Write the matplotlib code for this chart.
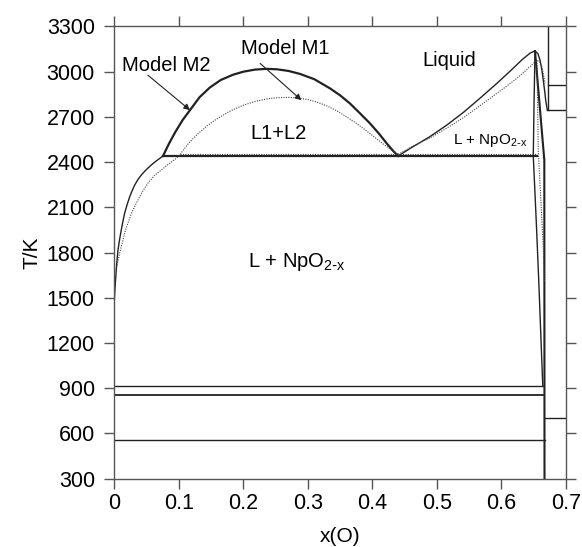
import matplotlib.pyplot as plt

plt.rcParams['font.family'] = ['Liberation Sans', 'DejaVu Sans']

# Model M2 (solid lines)
m2_left_x = [0.0, 0.0008, 0.0016, 0.0035, 0.0057, 0.0083, 0.0108, 0.0135, 0.016, 0.02, 0.0239,
             0.0278, 0.0316, 0.0365, 0.0419, 0.0495, 0.0573, 0.065, 0.0728, 0.0755]
m2_left_T = [1480, 1540, 1596, 1715, 1817, 1890, 1950, 2010, 2061, 2120, 2171,
             2212, 2248, 2284, 2315, 2350, 2381, 2408, 2432, 2441]
m2_dome_x = [0.0755, 0.085, 0.095, 0.106, 0.1173, 0.132, 0.148, 0.165, 0.184, 0.2, 0.218, 0.236,
             0.252, 0.27, 0.288, 0.31, 0.334, 0.35, 0.365, 0.38, 0.396, 0.41, 0.422, 0.432, 0.44]
m2_dome_T = [2441, 2525, 2603, 2680, 2745, 2830, 2895, 2945, 2980, 3000, 3014, 3019,
             3016, 3005, 2985, 2950, 2890, 2843, 2790, 2727, 2658, 2590, 2525, 2475, 2441]
m2_liq_x = [0.44, 0.46, 0.489, 0.515, 0.541, 0.567, 0.593, 0.615, 0.632, 0.644, 0.649, 0.652,
            0.6565, 0.6597, 0.6625, 0.6648, 0.667, 0.6685, 0.671]
m2_liq_T = [2441, 2495, 2569, 2645, 2730, 2825, 2923, 3010, 3080, 3122, 3133, 3137,
            3120, 3077, 3015, 2945, 2870, 2812, 2746]
m2_sol_x = [0.652, 0.6505, 0.6493, 0.654, 0.658, 0.661, 0.664]
m2_sol_T = [3137, 2800, 2441, 2000, 1590, 1250, 917]
m2_upper_x = [0.652, 0.6664, 0.6667]
m2_upper_T = [3137, 2413, 300]
m2_mono_x = [0.0755, 0.655]
m2_mono_T = [2441, 2441]

# Model M1 (dotted lines)
m1_left_x = [0.0035, 0.0085, 0.0135, 0.017, 0.021, 0.027, 0.034, 0.043, 0.052, 0.062, 0.0728,
             0.085, 0.096, 0.102]
m1_left_T = [1700, 1800, 1884, 1945, 1994, 2065, 2127, 2200, 2260, 2310, 2348, 2390, 2425, 2452]
m1_dome_x = [0.102, 0.115, 0.13, 0.145, 0.16, 0.18, 0.2, 0.22, 0.24, 0.255, 0.27, 0.285, 0.3,
             0.315, 0.33, 0.345, 0.36, 0.375, 0.39, 0.405, 0.42, 0.43, 0.44]
m1_dome_T = [2452, 2525, 2590, 2645, 2690, 2740, 2778, 2805, 2822, 2828, 2830, 2825, 2815,
             2797, 2772, 2740, 2700, 2658, 2610, 2560, 2510, 2478, 2452]
m1_liq_x = [0.44, 0.46, 0.489, 0.515, 0.541, 0.567, 0.593, 0.61, 0.625, 0.635, 0.644, 0.65,
            0.655, 0.659, 0.662, 0.665, 0.6675]
m1_liq_T = [2452, 2500, 2560, 2625, 2695, 2775, 2857, 2910, 2960, 2998, 3033, 3058,
            3075, 3068, 3040, 2985, 2923]
m1_sol_x = [0.655, 0.656, 0.657, 0.661, 0.665, 0.6667]
m1_sol_T = [3075, 2800, 2480, 2150, 1815, 1600]
m1_mono_x = [0.102, 0.655]
m1_mono_T = [2452, 2452]

# horizontal invariant lines (x_start, x_end, T)
h_x0 = [0.0, 0.0, 0.0, 0.6667, 0.671, 0.6726]
h_x1 = [0.664, 0.666, 0.6667, 0.7, 0.7, 0.7]
h_T = [917, 857, 555, 703, 2746, 2912]
# vertical line at right (x, T_start, T_end)
v_x = [0.6726]
v_T0 = [2746]
v_T1 = [3300]

xticks = [0, 0.1, 0.2, 0.3, 0.4, 0.5, 0.6, 0.7]
xlabels = ['0', '0.1', '0.2', '0.3', '0.4', '0.5', '0.6', '0.7']
yticks = list(range(300, 3301, 300))

fig = plt.figure(figsize=(5.82, 5.47), dpi=100)
ax = fig.add_axes([0.1964, 0.1249, 0.7761, 0.8267])

k = '#222222'
dot = (0, (1, 1.2))
ax.plot(m2_left_x, m2_left_T, color=k, lw=1.0)
ax.plot(m2_dome_x, m2_dome_T, color=k, lw=1.6)
ax.plot(m2_liq_x, m2_liq_T, color=k, lw=1.0)
ax.plot(m2_sol_x, m2_sol_T, color=k, lw=1.0)
ax.plot(m2_upper_x, m2_upper_T, color=k, lw=1.5)
ax.plot(m2_mono_x, m2_mono_T, color=k, lw=1.6)

ax.plot(m1_left_x, m1_left_T, color='#444444', lw=0.8, ls=dot)
ax.plot(m1_dome_x, m1_dome_T, color='#444444', lw=0.8, ls=dot)
ax.plot(m1_liq_x, m1_liq_T, color='#444444', lw=0.8, ls=dot)
ax.plot(m1_sol_x, m1_sol_T, color='#444444', lw=0.8, ls=dot)
ax.plot(m1_mono_x, m1_mono_T, color='#444444', lw=0.8, ls=dot)

for x0, x1, T in zip(h_x0, h_x1, h_T):
    ax.plot([x0, x1], [T, T], color=k, lw=1.3 if T == 857 else 1.0)
for x, T0, T1 in zip(v_x, v_T0, v_T1):
    ax.plot([x, x], [T0, T1], color=k, lw=1.0)

ax.text(0.080, 3044, 'Model M2', fontsize=14.5, ha='center', va='center')
ax.text(0.265, 3157, 'Model M1', fontsize=14.5, ha='center', va='center')
ax.text(0.519, 3077, 'Liquid', fontsize=14.5, ha='center', va='center')
ax.text(0.254, 2593, 'L1+L2', fontsize=14.5, ha='center', va='center')
ax.text(0.282, 1740, 'L + NpO$_{\\mathregular{2\\text{-}x}}$', fontsize=14.5, ha='center', va='center')
ax.text(0.582, 2546, 'L + NpO$_{\\mathregular{2\\text{-}x}}$', fontsize=11, ha='center', va='center')

arrow = dict(arrowstyle='-|>', color=k, lw=0.8, mutation_scale=9, shrinkA=0, shrinkB=0)
ax.annotate('', xy=(0.1173, 2745), xytext=(0.052, 2977), arrowprops=arrow)
ax.annotate('', xy=(0.290, 2811), xytext=(0.226, 3055), arrowprops=arrow)

ax.set_xlim(0, 0.7)
ax.set_ylim(300, 3300)
ax.set_xticks(xticks)
ax.set_xticklabels(xlabels)
ax.set_yticks(yticks)
ax.tick_params(direction='out', length=7, width=1, color='#555555', labelsize=15.5,
               top=True, right=True, labeltop=False, labelright=False)
ax.tick_params(axis='y', pad=7)
for s in ax.spines.values():
    s.set_color('#555555')
    s.set_linewidth(1.0)
ax.set_xlabel('x(O)', fontsize=15, labelpad=9)
ax.set_ylabel('T/K', fontsize=15, labelpad=4)

fig.savefig('out.png', dpi=100)
